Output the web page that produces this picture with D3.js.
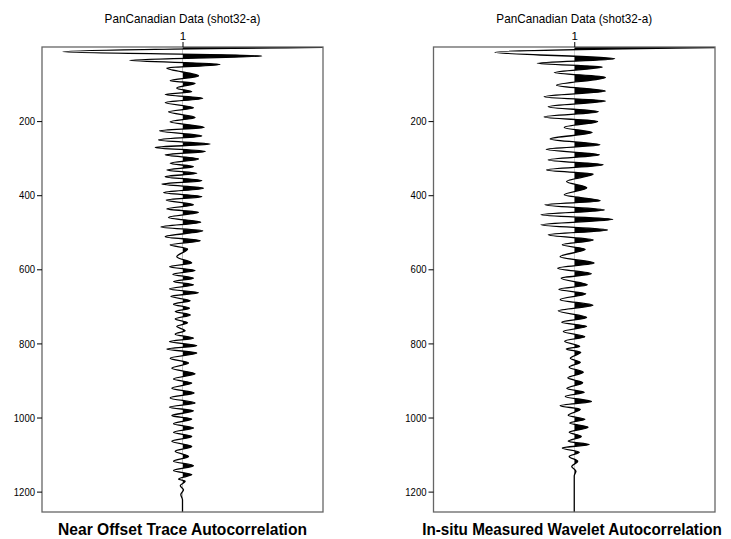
<!DOCTYPE html>
<html>
<head>
<meta charset="utf-8">
<script src="https://cdn.jsdelivr.net/npm/d3@7"></script>
<style>
  body { margin: 0; background: #fff; }
  svg { display: block; }
</style>
</head>
<body>
<svg id="chart" width="731" height="539"></svg>
<script>
// Two-way time axis (ms) and trace axis
const timeTicks = [200, 400, 600, 800, 1000, 1200];
const traceTicks = [1];
const timeMax = 1255;

const headerText = "PanCanadian Data (shot32-a)";
const panelTitles = ["Near Offset Trace Autocorrelation", "In-situ Measured Wavelet Autocorrelation"];

// Near offset trace autocorrelation: lag (ms) of each extremum and its amplitude
// (amplitude in units of trace spacing; zero-lag is clipped by the frame)
const nearLag = [0, 13, 24, 36, 47, 57, 78, 91, 98, 111, 121, 128, 138, 150, 164, 175, 190, 202,
  217, 226, 240, 251, 262, 271, 282, 291, 302, 314, 323, 332, 341, 350, 361, 370, 381, 393,
  404, 413, 426, 437, 446, 460, 473, 486, 496, 512, 523, 534, 545, 566, 583, 593, 603, 613,
  624, 633, 642, 653, 663, 673, 685, 694, 705, 714, 723, 734, 744, 754, 766, 775, 786, 795,
  806, 815, 826, 840, 853, 867, 882, 896, 907, 921, 934, 947, 961, 972, 982, 995, 1004, 1017,
  1028, 1040, 1051, 1064, 1078, 1091, 1105, 1118, 1130, 1143, 1154, 1166, 1172, 1184, 1195,
  1208, 1222, 1255];
const nearAmp = [1.25, -0.851, 0.565, -0.377, 0.267, -0.112, 0.114, -0.088, 0.090, -0.041, 0.066,
  -0.123, 0.144, -0.123, 0.078, -0.100, 0.090, -0.088,
  0.154, -0.164, 0.137, -0.171, 0.197, -0.194, 0.162, -0.123, 0.114, -0.088, 0.078, -0.112,
  0.102, -0.123, 0.137, -0.147, 0.149, -0.135,
  0.137, -0.116, 0.078, -0.112, 0.114, -0.100, 0.130, -0.154, 0.144, -0.123, 0.126, -0.088,
  0.036, -0.041, 0.066, -0.093, 0.090, -0.069,
  0.078, -0.064, 0.078, -0.093, 0.114, -0.083, 0.055, -0.064, 0.050, -0.052, 0.055, -0.052,
  0.036, -0.041, 0.019, -0.052, 0.078, -0.093,
  0.102, -0.112, 0.102, -0.088, 0.043, -0.076, 0.090, -0.064, 0.066, -0.076, 0.083, -0.088,
  0.090, -0.093, 0.078, -0.076, 0.066, -0.064,
  0.078, -0.064, 0.066, -0.076, 0.066, -0.052, 0.043, -0.064, 0.078, -0.064, 0.066, -0.028,
  0.019, -0.016, 0.007, -0.012, 0, 0];

// In-situ measured wavelet autocorrelation
const insituLag = [0, 14, 32, 44, 54, 69, 82, 103, 119, 134, 146, 161, 175, 189, 201, 217, 231,
  248, 264, 276, 291, 305, 318, 332, 343, 363, 380, 399, 415, 426, 440, 453, 465, 480, 494,
  507, 521, 534, 546, 566, 583, 597, 612, 624, 642, 654, 666, 682, 697, 712, 730, 743, 754,
  768, 782, 794, 808, 815, 824, 840, 851, 864, 878, 893, 906, 922, 932, 943, 957, 968, 978,
  994, 1005, 1015, 1026, 1040, 1051, 1064, 1073, 1082, 1094, 1105, 1118, 1132, 1145, 1157, 1255];
const insituAmp = [1.25, -0.564, 0.288, -0.263, 0.199, -0.142, 0.221, -0.126, 0.221, -0.214,
  0.221, -0.185, 0.171, -0.214, 0.166, -0.071, 0.127,
  -0.171, 0.183, -0.199, 0.180, -0.185, 0.206, -0.197, 0.135, -0.055, 0.089, -0.071, 0.185,
  -0.209, 0.214, -0.237, 0.274, -0.237, 0.237,
  -0.185, 0.135, -0.085, 0.078, -0.100, 0.142, -0.117, 0.121, -0.093, 0.093, -0.110, 0.082,
  -0.100, 0.132, -0.114, 0.088, -0.089, 0.088,
  -0.078, 0.075, -0.068, 0.039, -0.057, 0.046, -0.028, 0.043, -0.036, 0.064, -0.046, 0.060,
  -0.053, 0.071, -0.064, 0.123, -0.100, 0.043,
  -0.043, 0.076, -0.032, 0.098, -0.036, 0.050, -0.043, 0.107, -0.085, 0.036, -0.036, 0.025,
  -0.018, 0.012, 0, 0];

const FONT = "'Liberation Sans', Arial, Helvetica, sans-serif";

const panels = [
  { left: 42, right: 323, lag: nearLag, amp: nearAmp, title: panelTitles[0], titleX: 182.5, titleW: 249 },
  { left: 433.5, right: 715, lag: insituLag, amp: insituAmp, title: panelTitles[1], titleX: 572, titleW: 300 }
];
const frameTop = 47, frameBottom = 512;

const svg = d3.select("#chart");

// centred text squeezed horizontally to a target width (narrow face look)
function narrowText(parent, txt, cx, baseline, size, weight, width) {
  const t = parent.append("text")
    .attr("text-anchor", "middle")
    .attr("font-family", FONT).attr("font-size", size).attr("font-weight", weight)
    .text(txt);
  const natural = t.node().getComputedTextLength();
  const k = natural > 0 ? width / natural : 1;
  t.attr("transform", `translate(${cx},${baseline}) scale(${k},1)`);
  return t;
}

panels.forEach((p, i) => {
  const x = d3.scaleLinear().domain([0, 2]).range([p.left, p.right]);
  const y = d3.scaleLinear().domain([0, timeMax]).range([frameTop, frameBottom]);
  const n = Math.min(p.lag.length, p.amp.length);
  const pts = d3.range(n).map(k => ({ t: p.lag[k], a: p.amp[k] }));
  const trace = traceTicks[0];

  const defs = svg.append("defs");
  defs.append("clipPath").attr("id", "frame" + i)
    .append("rect").attr("x", p.left).attr("y", frameTop)
    .attr("width", p.right - p.left).attr("height", frameBottom - frameTop);
  defs.append("clipPath").attr("id", "pos" + i)
    .append("rect").attr("x", x(trace)).attr("y", frameTop)
    .attr("width", p.right - x(trace)).attr("height", frameBottom - frameTop);

  const g = svg.append("g");

  // positive lobes filled black
  const area = d3.area()
    .y(d => y(d.t))
    .x0(x(trace))
    .x1(d => x(trace + d.a))
    .curve(d3.curveMonotoneY);
  g.append("g").attr("clip-path", `url(#frame${i})`)
    .append("path")
    .attr("clip-path", `url(#pos${i})`)
    .attr("d", area(pts))
    .attr("fill", "#000");

  // wiggle line
  const line = d3.line()
    .x(d => x(trace + d.a))
    .y(d => y(d.t))
    .curve(d3.curveMonotoneY);
  g.append("path")
    .attr("clip-path", `url(#frame${i})`)
    .attr("d", line(pts))
    .attr("fill", "none")
    .attr("stroke", "#000")
    .attr("stroke-width", 1.3);

  // frame
  g.append("rect")
    .attr("x", p.left).attr("y", frameTop)
    .attr("width", p.right - p.left).attr("height", frameBottom - frameTop)
    .attr("fill", "none").attr("stroke", "#666").attr("stroke-width", 1.3);

  // time axis
  const ya = g.append("g")
    .attr("transform", `translate(${p.left},0)`)
    .call(d3.axisLeft(y).tickValues(timeTicks).tickFormat(d3.format("d"))
      .tickSize(5).tickPadding(2).tickSizeOuter(0));
  ya.select(".domain").remove();
  ya.selectAll(".tick line").attr("stroke", "#000");
  ya.selectAll(".tick text")
    .attr("font-family", FONT).attr("font-size", 11.5).attr("fill", "#000")
    .attr("textLength", d => String(d).length * 5.3)
    .attr("lengthAdjust", "spacingAndGlyphs");

  // trace axis
  const xa = g.append("g")
    .attr("transform", `translate(0,${frameTop})`)
    .call(d3.axisTop(x).tickValues(traceTicks).tickFormat(d3.format("d")).tickSize(5).tickPadding(2));
  xa.select(".domain").remove();
  xa.selectAll(".tick line").attr("stroke", "#000");
  xa.selectAll(".tick text")
    .attr("font-family", FONT).attr("font-size", 11.5).attr("fill", "#000");

  // header
  narrowText(g, headerText, x(trace), 22.5, 13, "normal", 156);

  // panel title
  narrowText(g, p.title, p.titleX, 535, 16.5, "bold", p.titleW);
});
</script>
</body>
</html>
